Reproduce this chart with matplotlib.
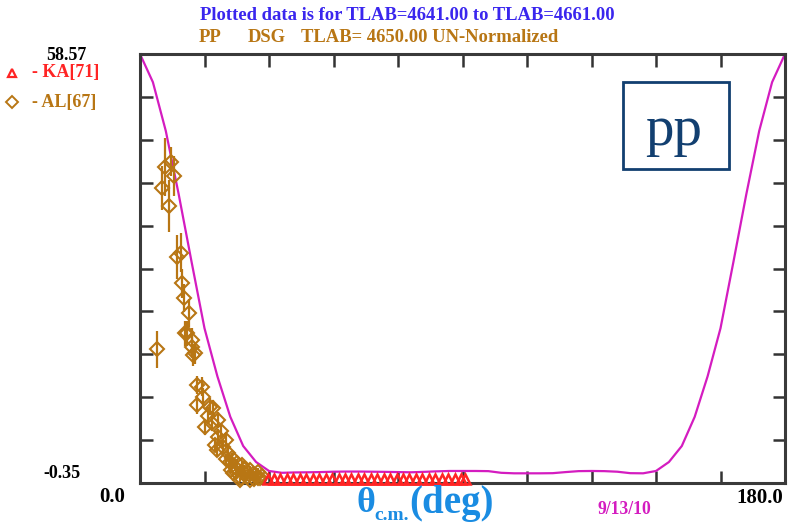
import matplotlib
matplotlib.use("Agg")
import matplotlib.pyplot as plt
from matplotlib.patches import Rectangle
import numpy as np

# model curve, sampled every 3.6 deg
curve_theta = [0.0, 3.6, 7.2, 10.8, 14.4, 18.0, 21.6, 25.2, 28.8, 32.4, 36.0,
               39.6, 43.2, 46.8, 50.4, 54.0, 57.6, 61.2, 64.8, 68.4, 72.0,
               75.6, 79.2, 82.8, 86.4, 90.0, 93.6, 97.2, 100.8, 104.4, 108.0,
               111.6, 115.2, 118.8, 122.4, 126.0, 129.6, 133.2, 136.8, 140.4,
               144.0, 147.6, 151.2, 154.8, 158.4, 162.0, 165.6, 169.2, 172.8,
               176.4, 180.0]
curve_val = [58.57, 54.7, 48.0, 39.3, 30.0, 20.9, 14.3, 8.74, 4.73, 2.53, 1.30,
             1.05, 1.10, 1.12, 1.15, 1.20, 1.22, 1.22, 1.20, 1.18, 1.15,
             1.12, 1.18, 1.25, 1.30, 1.30, 1.30, 1.28, 1.05, 0.98, 0.98,
             0.98, 1.00, 1.15, 1.28, 1.30, 1.28, 1.20, 1.00, 0.98,
             1.30, 2.53, 4.73, 8.74, 14.3, 20.9, 30.0, 39.3, 48.0,
             54.7, 58.57]

# KA[71]
ka_theta = [35.6, 37.4, 39.2, 41.0, 42.8, 44.6, 46.4, 48.2, 50.0, 51.8, 53.6,
            55.4, 57.2, 59.0, 60.8, 62.6, 64.4, 66.2, 68.0, 69.8, 71.6, 73.4,
            75.2, 77.0, 78.8, 80.6, 82.4, 84.2, 86.0, 87.8, 89.6, 90.8]
ka_val = [0.22, 0.20, 0.22, 0.18, 0.20, 0.22, 0.20, 0.18, 0.20, 0.22, 0.20,
          0.18, 0.20, 0.22, 0.20, 0.18, 0.20, 0.22, 0.20, 0.18, 0.20, 0.22,
          0.20, 0.18, 0.20, 0.22, 0.20, 0.18, 0.20, 0.22, 0.20, 0.18]

# AL[67]
al_theta = [4.83, 6.06, 6.98, 8.18, 8.57, 9.49, 10.24, 11.36, 11.64, 12.28,
            12.56, 13.03, 13.67, 14.43, 14.43, 14.87, 15.35, 16.02, 17.22,
            16.02, 18.14, 19.54, 20.46, 20.93, 21.40, 21.85, 21.85, 23.25,
            24.64, 25.12, 26.51, 26.04, 28.38, 29.30, 30.70, 32.09, 33.01,
            33.49, 30.70, 27.91, 24.0, 22.5, 25.8, 27.2, 28.9, 31.4, 29.8,
            26.9, 23.9, 20.1, 19.0, 17.6, 31.9, 32.8, 34.0, 28.2, 25.3]
al_val = [18.01, 40.12, 43.09, 37.69, 43.78, 41.81, 30.65, 31.28, 27.08, 25.02,
          20.21, 20.21, 22.96, 19.29, 18.37, 17.23, 17.46, 13.11, 12.88,
          10.36, 7.38, 10.13, 9.91, 4.87, 4.18, 8.30, 6.01, 4.64,
          3.73, 2.58, 1.89, 0.98, 2.12, 0.98, 1.44, 0.75, 1.20,
          0.30, 0.06, 0.06, 5.6, 6.8, 3.1, 2.4, 1.6, 0.9, 0.5,
          1.1, 2.9, 7.9, 8.9, 11.4, 0.2, 0.4, 0.6, 0.4, 1.5]
al_err = [2.5, 3.0, 4.0, 3.6, 2.0, 2.7, 3.0, 2.7, 2.0, 1.9,
          1.7, 1.7, 1.9, 1.6, 1.6, 1.5, 1.5, 1.3, 1.3,
          1.2, 1.1, 1.2, 1.2, 0.9, 0.9, 1.1, 1.0, 0.9,
          0.8, 0.7, 0.6, 0.5, 0.6, 0.5, 0.5, 0.4, 0.5,
          0.3, 0.3, 0.3, 0.9, 1.0, 0.7, 0.6, 0.5, 0.4, 0.3,
          0.5, 0.7, 1.1, 1.2, 1.3, 0.3, 0.3, 0.3, 0.3, 0.5]

y_lo, y_hi = -0.35, 58.57

magenta = "#d41cc0"
brown = "#b87614"
red = "#ff2424"
navy = "#123f70"
serif = "Liberation Serif"

W, H = 792, 525
fig = plt.figure(figsize=(W / 100, H / 100), dpi=100)

ax = fig.add_axes([140 / W, (H - 483) / H, 645 / W, 429 / H])
ax.plot(curve_theta, curve_val, color=magenta, lw=1.6, zorder=2)
ax.errorbar(al_theta, al_val, yerr=al_err, fmt="D", ms=7, mfc="none",
            mec=brown, mew=1.5, ecolor=brown, elinewidth=1.6, capsize=0,
            zorder=3, clip_on=False)
ax.plot(ka_theta, ka_val, "^", ms=6.5, mfc="none", mec=red, mew=1.8,
        zorder=4, clip_on=False)

ax.set_xlim(0, 180)
ax.set_ylim(y_lo, y_hi)
ax.set_xticks(np.arange(0, 181, 18))
ax.set_yticks(np.linspace(y_lo, y_hi, 11))
ax.tick_params(direction="in", length=9, width=1.8, color="#333333",
               top=True, right=True, labelbottom=False, labelleft=False)
for s in ax.spines.values():
    s.set_linewidth(2.2)
    s.set_color("#3a3a3a")

# page annotations in pixel coordinates
deco = fig.add_axes([0, 0, 1, 1], zorder=5)
deco.set_xlim(0, W)
deco.set_ylim(H, 0)
deco.axis("off")

bold = dict(family=serif, fontweight="bold")
deco.text(407, 15, "Plotted data is for TLAB=4641.00 to TLAB=4661.00",
          color="#3a26ee", fontsize=13.4, ha="center", va="center", **bold)
deco.text(199, 37, "PP", color=brown, fontsize=13.4, ha="left", va="center", **bold)
deco.text(248, 37, "DSG", color=brown, fontsize=13.4, ha="left", va="center", **bold)
deco.text(301, 37, "TLAB= 4650.00 UN-Normalized", color=brown, fontsize=13.4,
          ha="left", va="center", **bold)

deco.text(66, 55, "58.57", color="black", fontsize=13, ha="center", va="center", **bold)
deco.text(62, 474, "-0.35", color="black", fontsize=13, ha="center", va="center", **bold)
deco.text(112, 497, "0.0", color="black", fontsize=15, ha="center", va="center", **bold)
deco.text(760, 498, "180.0", color="black", fontsize=15, ha="center", va="center", **bold)
deco.text(624, 510, "9/13/10", color=magenta, fontsize=12.7, ha="center", va="center", **bold)

deco.plot([12], [73], "^", ms=6, mfc="none", mec=red, mew=1.6)
deco.text(32, 73, "- KA[71]", color=red, fontsize=13, ha="left", va="center", **bold)
deco.plot([12], [102], "D", ms=6, mfc="none", mec=brown, mew=1.4)
deco.text(32, 102, "- AL[67]", color=brown, fontsize=13, ha="left", va="center", **bold)

blue = "#1a8ce2"
deco.text(357, 504, "\u03b8", color=blue, fontsize=26, ha="left", va="center", **bold)
deco.text(374, 515, "c.m.", color=blue, fontsize=14, ha="left", va="center", **bold)
deco.text(409, 504, "(deg)", color=blue, fontsize=28, ha="left", va="center", **bold)

deco.add_patch(Rectangle((623, 82), 106, 87, fill=False, ec=navy, lw=2))
deco.text(674, 145, "pp", color=navy, fontsize=41, family=serif,
          ha="center", va="baseline")

fig.savefig("out.png", dpi=100)
